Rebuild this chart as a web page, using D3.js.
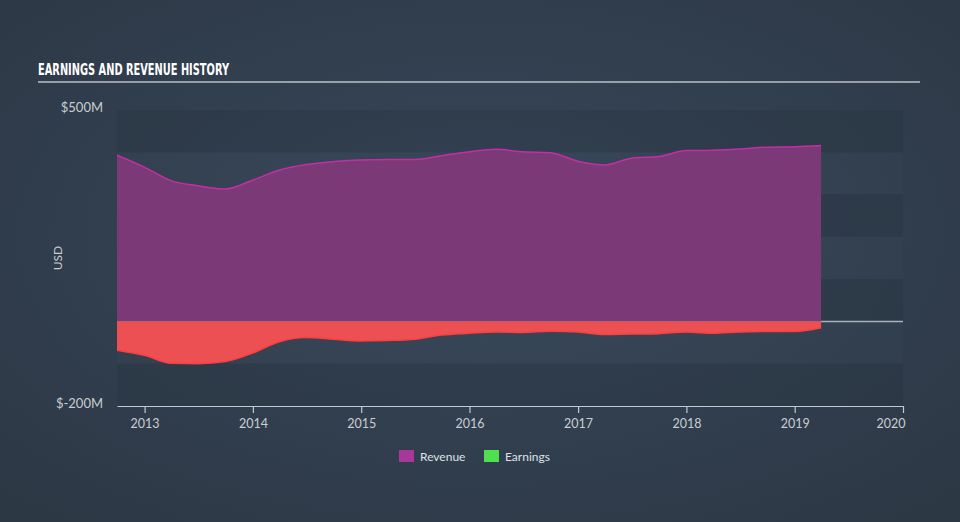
<!DOCTYPE html>
<html>
<head>
<meta charset="utf-8">
<script src="https://cdn.jsdelivr.net/npm/d3@7"></script>
<style>
html,body{margin:0;padding:0;background:#323f4e;}
svg{display:block;}
</style>
</head>
<body>
<svg id="chart" width="960" height="522"></svg>
<script>
const dates = ["2012-09-30","2012-12-31","2013-03-31","2013-06-30","2013-09-30","2013-12-31","2014-03-31","2014-06-30","2014-09-30","2014-12-31","2015-03-31","2015-06-30","2015-09-30","2015-12-31","2016-03-31","2016-06-30","2016-09-30","2016-12-31","2017-03-31","2017-06-30","2017-09-30","2017-12-31","2018-03-31","2018-06-30","2018-09-30","2018-12-31","2019-03-31"];
const revenue = [393,365,333,321,313,334,358,371,378,382,383,383,392,401,407,401,399,379,370,386,390,404,405,408,412,413,416];
const earnings = [-68,-80,-99,-100,-95,-75,-48,-38,-42,-46,-45,-42,-32,-28,-25,-26,-23,-25,-31,-30,-29,-25,-28,-25,-24,-24,-15];
const yTicks = [500,-200];
const yTickLabels = ["$500M","$-200M"];
const xTickYears = [2013,2014,2015,2016,2017,2018,2019,2020];
const bandValues = [500,400,300,200,100,0,-100,-200];
const legendItems = ["Revenue","Earnings"];
const legendColors = ["#a8379a","#4fe04f"];

const svg = d3.select("#chart");
const W = 960, H = 522;
const parse = d3.timeParse("%Y-%m-%d");
const data = dates.map((d,i)=>({date:parse(d), rev:revenue[i], earn:earnings[i]}));

// background gradient
const defs = svg.append("defs");
const rg = defs.append("radialGradient").attr("id","bg").attr("cx","50%").attr("cy","45%").attr("r","70%");
rg.append("stop").attr("offset","0%").attr("stop-color","#37475a");
rg.append("stop").attr("offset","100%").attr("stop-color","#2d3845");
svg.append("rect").attr("width",W).attr("height",H).attr("fill","url(#bg)");

const x = d3.scaleTime().domain([parse("2012-09-30"), parse("2020-01-01")]).range([117, 903]);
const y = d3.scaleLinear().domain([-200,500]).range([406,110]);

// bands
for (let i=0;i<bandValues.length-1;i++){
  svg.append("rect")
    .attr("x",117).attr("width",786)
    .attr("y",y(bandValues[i])).attr("height",y(bandValues[i+1])-y(bandValues[i]))
    .attr("fill", i%2===0 ? "rgba(20,30,40,0.13)" : "rgba(255,255,255,0.01)");
}

// zero line
svg.append("line").attr("x1",117).attr("x2",903).attr("y1",y(0)).attr("y2",y(0))
  .attr("stroke","#aab3bc").attr("stroke-width",1.5);

const curve = d3.curveMonotoneX;
const revArea = d3.area().x(d=>x(d.date)).y0(y(0)).y1(d=>y(d.rev)).curve(curve);
const revLine = d3.line().x(d=>x(d.date)).y(d=>y(d.rev)).curve(curve);
const earnArea = d3.area().x(d=>x(d.date)).y0(y(0)).y1(d=>y(d.earn)).curve(curve);
const earnLine = d3.line().x(d=>x(d.date)).y(d=>y(d.earn)).curve(curve);

svg.append("path").datum(data).attr("d",revArea).attr("fill","#7b3977");
svg.append("path").datum(data).attr("d",revLine).attr("fill","none").attr("stroke","#c22fa4").attr("stroke-width",1.5);
svg.append("path").datum(data).attr("d",earnArea).attr("fill","#ec5052");
svg.append("path").datum(data).attr("d",earnLine).attr("fill","none").attr("stroke","#ff3d3d").attr("stroke-width",1.5);
svg.append("line").attr("x1",117).attr("x2",x(data[data.length-1].date)).attr("y1",y(0)).attr("y2",y(0))
  .attr("stroke","#b8606e").attr("stroke-width",1);

// x axis
const xAxis = d3.axisBottom(x)
  .tickValues(xTickYears.map(yr=>new Date(yr,0,1)))
  .tickFormat(d3.timeFormat("%Y"))
  .tickSize(7).tickSizeOuter(0);
const gx = svg.append("g").attr("transform","translate(0,406)").call(xAxis);
gx.select(".domain").attr("stroke","#c0c8d0").attr("stroke-width",1.2);
gx.selectAll(".tick line").attr("stroke","#c0c8d0").attr("stroke-width",1.2);
gx.selectAll(".tick text").attr("fill","#c8ced4").attr("font-family","Lato, 'Open Sans', sans-serif")
  .attr("font-size",12.5).attr("dy","0.95em");
gx.selectAll(".tick").filter(d=>d.getFullYear()===2020).select("text").attr("text-anchor","end").attr("dx","2");

// y labels
yTicks.forEach((v,i)=>{
  svg.append("text").attr("x",103).attr("y",y(v)+2).attr("text-anchor","end")
    .attr("fill","#c8ced4").attr("font-family","Lato, 'Open Sans', sans-serif").attr("font-size",13)
    .text(yTickLabels[i]);
});
svg.append("text").attr("transform","translate(62,258) rotate(-90)").attr("text-anchor","middle")
  .attr("fill","#c8ced4").attr("font-family","Lato, 'Open Sans', sans-serif").attr("font-size",12).text("USD");

// title
svg.append("text").attr("x",38).attr("y",75).attr("fill","#ffffff")
  .attr("font-family","'Liberation Sans Narrow','DejaVu Sans Condensed',sans-serif").attr("font-weight","bold")
  .attr("font-size",16).attr("textLength",191).attr("lengthAdjust","spacingAndGlyphs")
  .text("EARNINGS AND REVENUE HISTORY");
svg.append("line").attr("x1",38).attr("x2",920).attr("y1",82).attr("y2",82)
  .attr("stroke","#b8c0c8").attr("stroke-width",1.5);

// legend
const legendX = [399,484];
legendItems.forEach((name,i)=>{
  svg.append("rect").attr("x",legendX[i]).attr("y",450).attr("width",15).attr("height",12).attr("fill",legendColors[i]);
  svg.append("text").attr("x",legendX[i]+21).attr("y",460.5).attr("fill","#dde2e6")
    .attr("font-family","Lato, 'Open Sans', sans-serif").attr("font-size",12).text(name);
});
</script>
</body>
</html>
